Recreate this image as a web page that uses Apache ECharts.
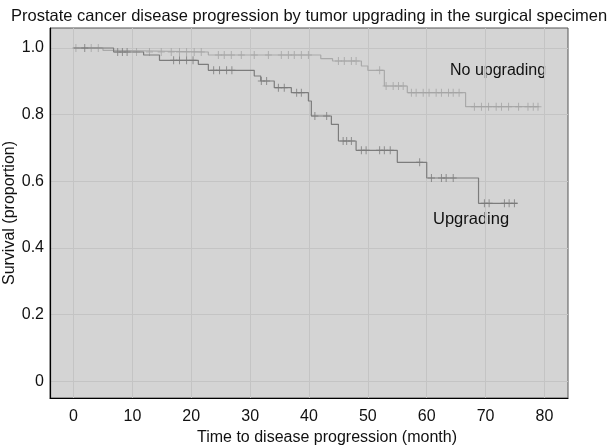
<!DOCTYPE html>
<html>
<head>
<meta charset="utf-8">
<script src="https://cdn.jsdelivr.net/npm/echarts@6/dist/echarts.min.js"></script>
<style>
  html, body { margin: 0; padding: 0; background: #fff; }
  #main { width: 608px; height: 448px; }
</style>
</head>
<body>
<div id="main"></div>
<script>
// Kaplan-Meier steps: time of each step (months) and survival after it
const upTimes = [0, 6.8, 11.9, 14.6, 21.2, 22.9, 30.7, 31.8, 34.1, 37.0, 39.9, 40.4, 43.8, 45.0, 48.0, 55.0, 60.0, 68.8, 75.4]
const upSurv = [1.0, 0.988, 0.979, 0.963, 0.951, 0.933, 0.916, 0.901, 0.881, 0.866, 0.841, 0.796, 0.771, 0.721, 0.693, 0.657, 0.610, 0.534, 0.534]
const upCensor = [1.9, 7.5, 8.3, 9.1, 17.0, 18.0, 19.2, 20.3, 23.8, 24.8, 26.0, 26.9, 31.9, 32.8, 34.8, 35.8, 37.9, 38.7, 41.0, 43.0, 45.8, 46.4, 47.2, 48.9, 49.7, 52.0, 52.8, 53.8, 58.8, 60.8, 62.5, 63.3, 64.5, 69.8, 70.6, 73.2, 74.0, 74.9]

const noTimes = [0, 5.0, 7.0, 22.9, 42.0, 44.0, 48.9, 50.0, 52.8, 56.7, 66.6, 79.1]
const noSurv = [1.0, 0.993, 0.988, 0.979, 0.968, 0.961, 0.946, 0.933, 0.886, 0.866, 0.824, 0.824]
const noCensor = [0.4, 3.0, 4.2, 10.7, 12.9, 14.9, 16.6, 18.0, 19.2, 20.5, 21.7, 24.6, 25.6, 26.8, 28.5, 30.7, 33.1, 35.3, 36.5, 37.5, 38.7, 39.9, 45.0, 46.0, 47.2, 48.0, 52.0, 53.1, 54.3, 55.2, 56.0, 57.4, 58.2, 59.4, 60.4, 61.6, 62.5, 63.7, 64.5, 65.5, 68.1, 69.3, 70.5, 71.8, 72.7, 73.9, 75.6, 77.2, 78.1, 78.9]

const xTicks = [0, 10, 20, 30, 40, 50, 60, 70, 80]
const yTicks = [0, 0.2, 0.4, 0.6, 0.8, 1.0]

const FONT = 'Liberation Sans, Arial, sans-serif'
const plus = 'path://M3,0h1v8h-1zM0,3.5h7v1h-7z'

// survival value at time t (last step at or before t)
function survAt (times, surv, t) {
  let s = surv[0]
  for (let i = 0; i < times.length; i++) {
    if (times[i] <= t) s = surv[i]
  }
  return s
}

function stepData (times, surv) {
  return times.map((t, i) => [t, surv[i]])
}

function censorData (times, surv, cens) {
  return cens.map(t => [t, survAt(times, surv, t)])
}

let myChart = echarts.init(document.getElementById('main'))
myChart.setOption({
  animation: false,
  textStyle: { fontFamily: FONT },
  title: {
    text: 'Prostate cancer disease progression by tumor upgrading in the surgical specimen',
    left: 6,
    top: 3,
    textStyle: { fontSize: 16.5, fontWeight: 'normal', color: '#111', fontFamily: FONT }
  },
  grid: {
    left: 50,
    top: 28,
    width: 518,
    height: 370,
    containLabel: false,
    outerBoundsMode: 'none',
    show: true,
    backgroundColor: '#d4d4d4',
    borderColor: '#555',
    borderWidth: 1
  },
  xAxis: {
    type: 'value',
    min: -4,
    max: 84,
    name: 'Time to disease progression (month)',
    nameLocation: 'middle',
    nameGap: 32,
    nameTextStyle: { fontSize: 16, color: '#111', padding: [0, 0, 0, 36] },
    axisLine: { onZero: false, lineStyle: { color: '#000', width: 1.2 } },
    axisTick: { show: false, customValues: xTicks },
    axisLabel: { customValues: xTicks, fontSize: 16, color: '#111', margin: 11 },
    splitLine: { show: true, lineStyle: { color: '#c4c4c4', width: 1 } }
  },
  yAxis: {
    type: 'value',
    min: -0.05,
    max: 1.06,
    axisLine: { onZero: false, lineStyle: { color: '#000', width: 1.2 } },
    axisTick: { show: false, customValues: yTicks },
    axisLabel: {
      customValues: yTicks,
      fontSize: 16,
      color: '#111',
      margin: 6,
      formatter: v => (v === 0 ? '0' : v.toFixed(1))
    },
    splitLine: { show: true, lineStyle: { color: '#c4c4c4', width: 1 } }
  },
  graphic: [
    {
      type: 'text',
      x: 10,
      y: 213,
      rotation: Math.PI / 2,
      style: { text: 'Survival (proportion)', fontSize: 16, fill: '#111', fontFamily: FONT, align: 'center', verticalAlign: 'middle' }
    },
    { type: 'text', left: 450, top: 63, style: { text: 'No upgrading', fontSize: 16, fill: '#111', fontFamily: FONT } },
    { type: 'text', left: 433, top: 211, style: { text: 'Upgrading', fontSize: 16.5, fill: '#111', fontFamily: FONT } }
  ],
  series: [
    {
      name: 'No upgrading',
      type: 'line',
      step: 'end',
      symbol: 'none',
      data: stepData(noTimes, noSurv),
      lineStyle: { color: '#a9a9a9', width: 1.2 },
      z: 2
    },
    {
      type: 'scatter',
      symbol: plus,
      symbolSize: [7, 8],
      data: censorData(noTimes, noSurv, noCensor),
      itemStyle: { color: '#a4a4a4' },
      z: 2
    },
    {
      name: 'Upgrading',
      type: 'line',
      step: 'end',
      symbol: 'none',
      data: stepData(upTimes, upSurv),
      lineStyle: { color: '#7c7c7c', width: 1.2 },
      z: 3
    },
    {
      type: 'scatter',
      symbol: plus,
      symbolSize: [7, 8],
      data: censorData(upTimes, upSurv, upCensor),
      itemStyle: { color: '#7a7a7a' },
      z: 3
    }
  ]
})
</script>
</body>
</html>
